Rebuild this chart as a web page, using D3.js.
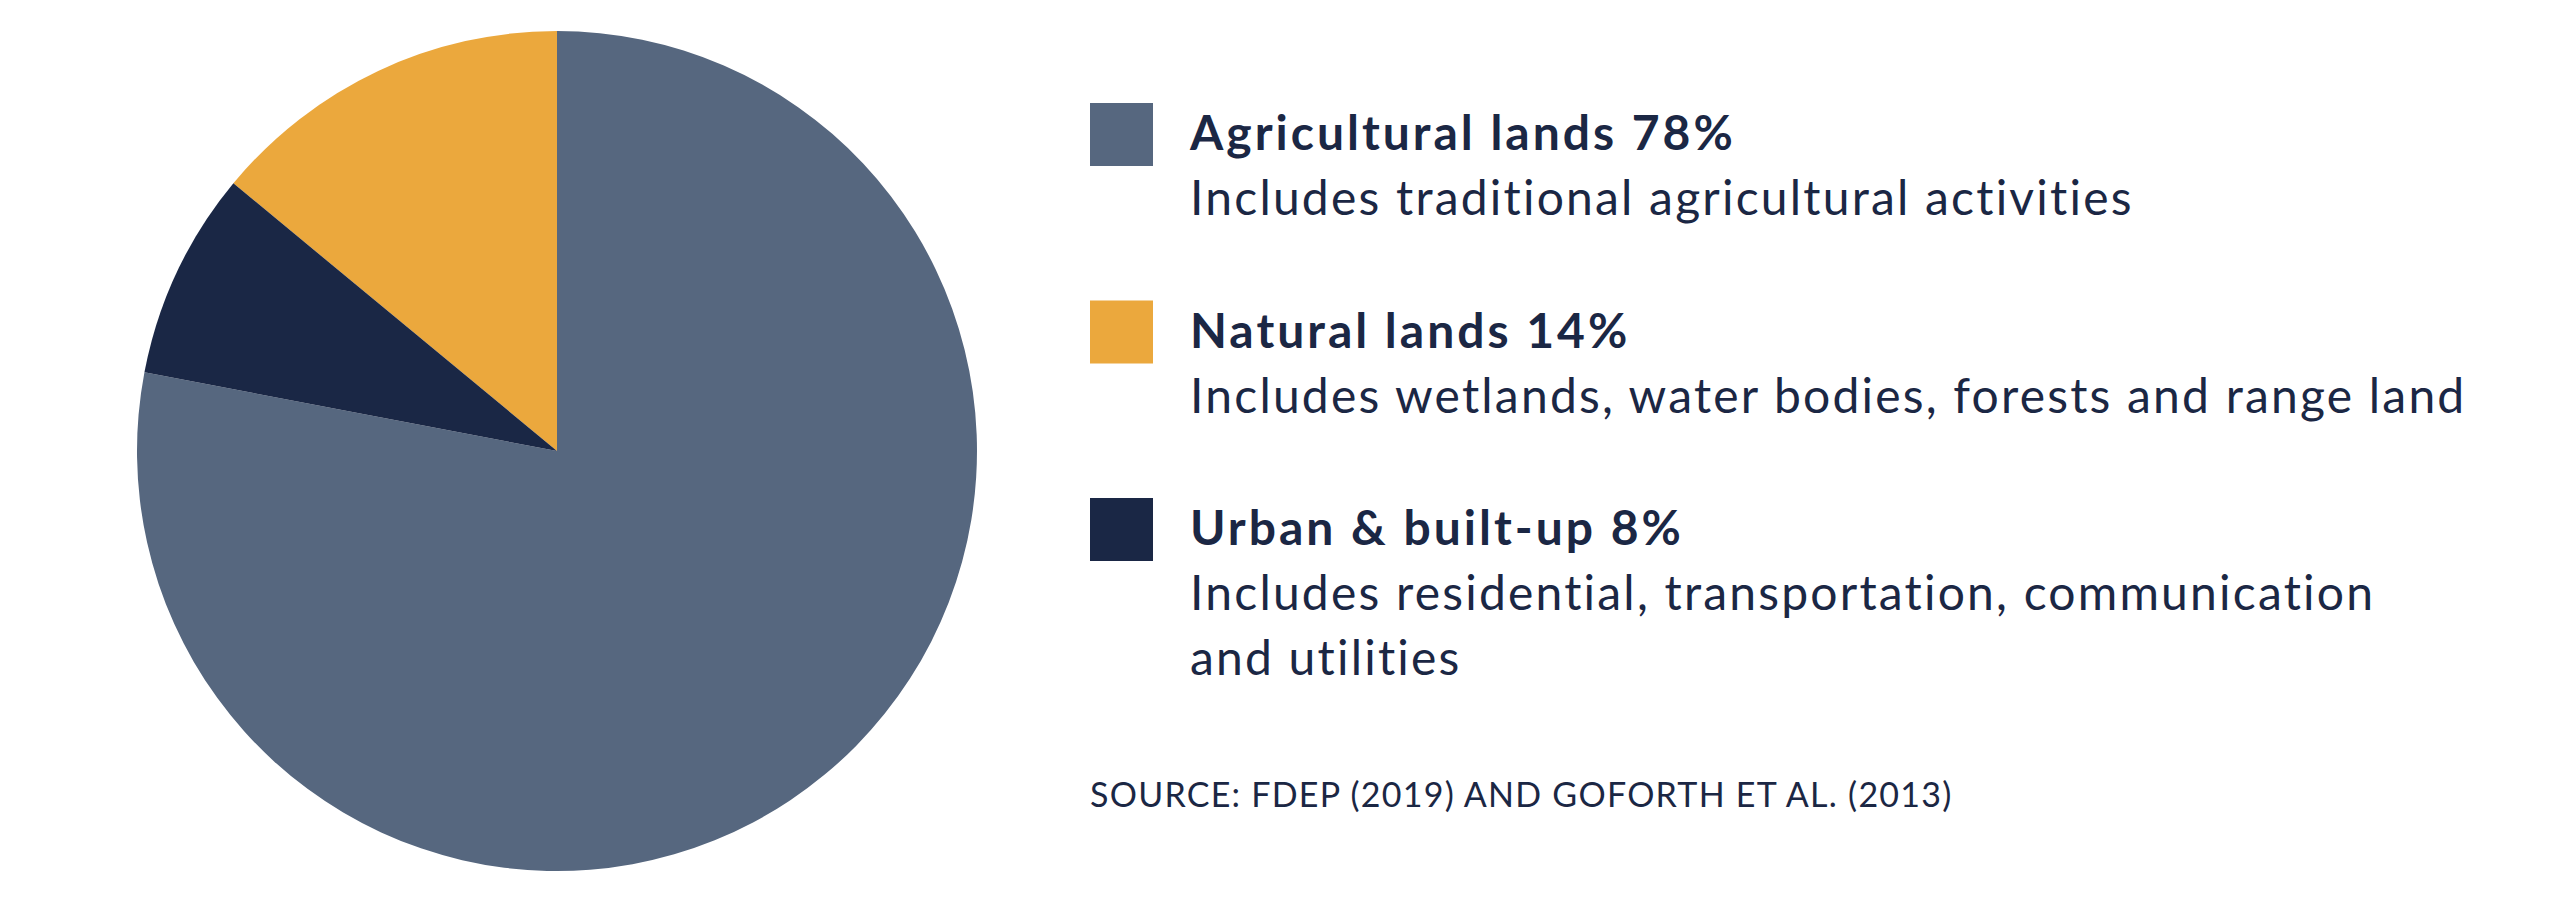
<!DOCTYPE html>
<html>
<head>
<meta charset="utf-8">
<script src="https://cdn.jsdelivr.net/npm/d3@7"></script>
<style>
  body { margin: 0; background: #fff; }
  svg { display: block; font-family: Lato, "Open Sans", sans-serif; }
</style>
</head>
<body>
<svg id="chart"></svg>
<script>
const width = 2560;
const height = 908;

// data, in legend order
const categories = ["Agricultural lands", "Natural lands", "Urban & built-up"];
const shares = [78, 14, 8];
const notes = [
    ["Includes traditional agricultural activities"],
    ["Includes wetlands, water bodies, forests and range land"],
    ["Includes residential, transportation, communication", "and utilities"]
];
const colors = ["#56677f", "#eba83d", "#1a2745"];
// order the slices go round the pie, clockwise from 12 o'clock
const pieOrder = ["Agricultural lands", "Urban & built-up", "Natural lands"];
const source = "SOURCE: FDEP (2019) AND GOFORTH ET AL. (2013)";

const ink = "#1b2744";

const svg = d3.select("#chart")
    .attr("width", width)
    .attr("height", height);

const rows = categories.map((c, i) => ({ name: c, value: shares[i], note: notes[i] }));

const color = d3.scaleOrdinal()
    .domain(categories)
    .range(colors);

// Pie
const cx = 557, cy = 451, radius = 420;

const pie = d3.pie()
    .value(d => d.value)
    .sort((a, b) => pieOrder.indexOf(a.name) - pieOrder.indexOf(b.name));

const arc = d3.arc()
    .innerRadius(0)
    .outerRadius(radius);

svg.append("g")
    .attr("transform", `translate(${cx},${cy})`)
    .selectAll("path")
    .data(pie(rows))
    .enter()
    .append("path")
    .attr("d", arc)
    .attr("fill", d => color(d.data.name));

// Legend
const legendX = 1090;
const rowY = d3.scalePoint()
    .domain(categories)
    .range([103, 498]);

const item = svg.append("g")
    .selectAll("g")
    .data(rows)
    .enter()
    .append("g")
    .attr("transform", d => `translate(${legendX},${rowY(d.name)})`);

item.append("rect")
    .attr("width", 63)
    .attr("height", 63)
    .attr("fill", d => color(d.name));

item.append("text")
    .attr("x", 100)
    .attr("y", 47)
    .attr("fill", ink)
    .attr("font-size", 48)
    .attr("font-weight", 700)
    .attr("letter-spacing", 3)
    .text(d => `${d.name} ${d.value}%`);

item.append("text")
    .attr("fill", ink)
    .attr("font-size", 48)
    .attr("letter-spacing", 2.2)
    .selectAll("tspan")
    .data(d => d.note)
    .enter()
    .append("tspan")
    .attr("x", 100)
    .attr("y", (d, i) => 112 + i * 65)
    .text(d => d);

svg.append("text")
    .attr("x", legendX)
    .attr("y", 807)
    .attr("fill", ink)
    .attr("font-size", 34)
    .attr("letter-spacing", 1.25)
    .text(source);
</script>
</body>
</html>
